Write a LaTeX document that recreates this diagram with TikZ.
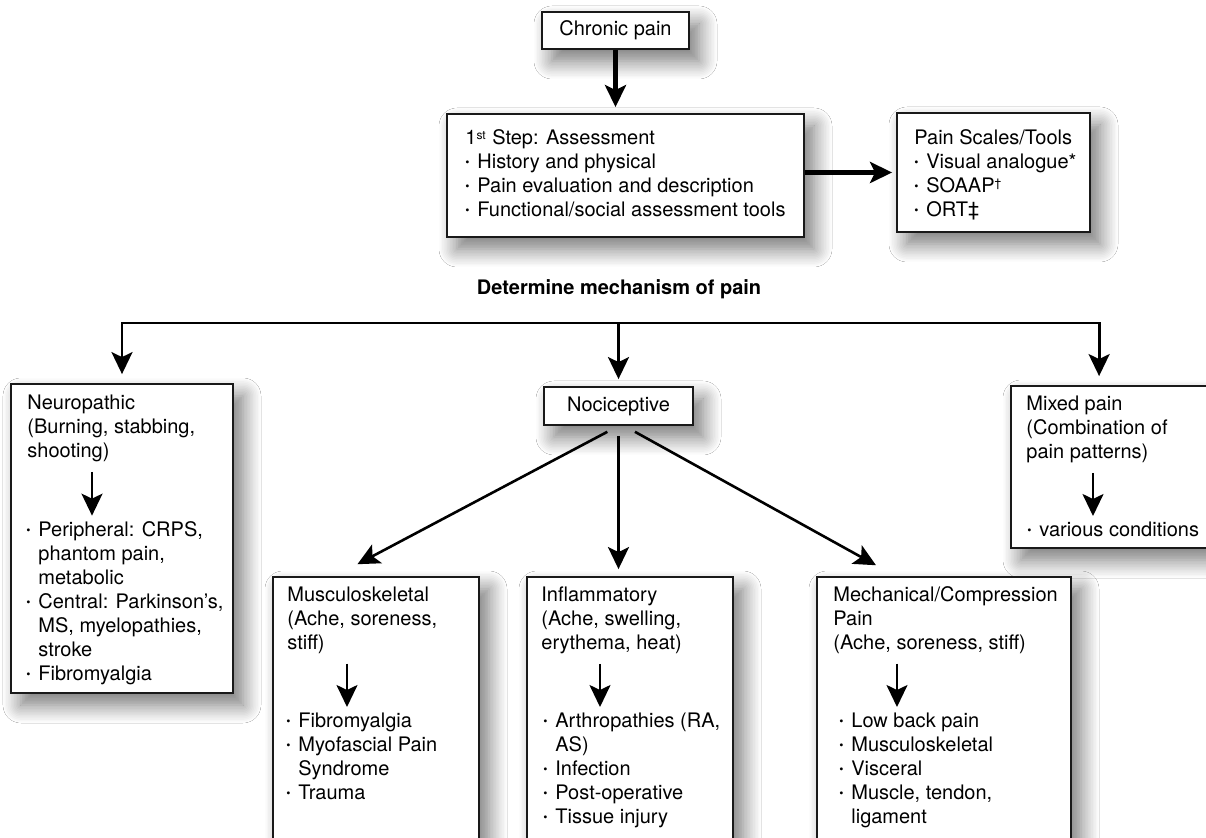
\documentclass[tikz,border=0pt]{standalone}
\usepackage{fontspec}
\setmainfont{TeX Gyre Heros}
\usepackage{tikz}
\usetikzlibrary{arrows.meta,fit,shadows.blur}
\newcommand{\bitem}{\makebox[6pt][l]{\raisebox{1.2pt}{\fontsize{6}{6}\selectfont\textbullet}}}
\newcommand{\bcont}{\hspace*{6pt}}

\begin{document}
\begin{tikzpicture}[
  x=0.5pt, y=-0.5pt,
  box/.style={draw=black!90, line width=0.9pt, fill=white, inner sep=0pt,
    blur shadow={shadow xshift=5pt, shadow yshift=-6pt, shadow blur radius=9pt, shadow blur steps=12, shadow opacity=55}},
  txt/.style={align=left, anchor=base west, inner sep=0pt},
  arr/.style={-{Stealth[length=11pt, width=10.5pt, inset=2.5pt]}, line width=1.4pt},
  bigarr/.style={arr, line width=2.2pt},
  diagarr/.style={arr, line width=1.3pt},
  inarr/.style={arr, line width=1.2pt, shorten <=4.5pt, shorten >=3pt}
]
\fill[white, use as bounding box] (0,0) rectangle (1206,838);
\clip (0,0) rectangle (1206,838);

% top part (text nodes sit on the baseline of their last line)
\node[box, minimum width=73.5pt, minimum height=18.5pt] (chronic) at (615.5,30.5) {Chronic pain};
\node[box, fit={(447,114)(804,237)}] (assess) {};
\node[txt] (assess-txt) at (465,217) {1{\footnotesize\textsuperscript{st}} Step: Assessment\\\bitem History and physical\\\bitem Pain evaluation and description\\\bitem Functional/social assessment tools};
\node[box, fit={(897,113)(1090,232)}] (scales) {};
\node[txt] (scales-txt) at (914,217) {Pain Scales/Tools\\\bitem Visual analogue*\\\bitem SOAAP{\footnotesize\textsuperscript{\textdagger}}\\\bitem ORT\textdaggerdbl};
\draw[bigarr, shorten >=3pt] (chronic.south) -- (chronic.south |- assess.north);
\draw[bigarr, shorten >=2pt] (assess.east |- scales.west) -- (scales.west);

\node[font=\bfseries, anchor=base] (mech-lbl) at (619,295) {Determine mechanism of pain};
\coordinate (split) at (618.5,323);

% mechanism boxes
\node[box, fit={(11,384)(233,693)}] (neuro) {};
\node[txt] (neuro-head) at (27,458) {Neuropathic\\(Burning, stabbing,\\shooting)};
\node[txt] (neuro-list) at (26,681) {\bitem Peripheral: CRPS,\\\bcont phantom pain,\\\bcont metabolic\\\bitem Central: Parkinson’s,\\\bcont MS, myelopathies,\\\bcont stroke\\\bitem Fibromyalgia};

\node[box, minimum width=74.5pt, minimum height=19pt] (noci) at (618.5,406) {Nociceptive};

\node[box, fit={(1011,386)(1240,548)}] (mixed) {};
\node[txt] (mixed-head) at (1026,459) {Mixed pain\\(Combination of\\pain patterns)};
\node[txt] (mixed-list) at (1027,537) {\bitem various conditions};

\node[box, fit={(273,577)(479,860)}] (musc) {};
\node[txt] (musc-head) at (287,650) {Musculoskeletal\\(Ache, soreness,\\stiff)};
\node[txt] (musc-list) at (286,800) {\bitem Fibromyalgia\\\bitem Myofascial Pain\\\bcont Syndrome\\\bitem Trauma};

\node[box, fit={(527,577)(733,860)}] (infl) {};
\node[txt] (infl-head) at (541,650) {Inflammatory\\(Ache, swelling,\\erythema, heat)};
\node[txt] (infl-list) at (543,824) {\bitem Arthropathies (RA,\\\bcont AS)\\\bitem Infection\\\bitem Post-operative\\\bitem Tissue injury};

\node[box, fit={(817,577)(1071,860)}] (mech) {};
\node[txt] (mech-head) at (833,650) {Mechanical/Compression\\Pain\\(Ache, soreness, stiff)};
\node[txt] (mech-list) at (839,824) {\bitem Low back pain\\\bitem Musculoskeletal\\\bitem Visceral\\\bitem Muscle, tendon,\\\bcont ligament};

% connectors
\draw[arr, shorten >=3.5pt] (split) -- (noci);
\draw[arr, shorten >=4.5pt] (split) -| (neuro.north);
\draw[arr, shorten >=4.5pt] (split) -| ([xshift=44.5pt]mixed.north west);
\draw[diagarr, shorten <=6.3pt, shorten >=12.7pt] (noci.south) -- ([xshift=-20.5pt]musc.north);
\draw[diagarr, shorten <=5pt, shorten >=3.5pt] (noci.south) -- (noci.south |- infl.north);
\draw[diagarr, shorten <=6.1pt, shorten >=11.2pt] ([xshift=2.9pt]noci.south) -- ([xshift=-24.2pt]mech.north);
\foreach \nm/\dx in {neuro/32.5pt, mixed/33.5pt, musc/30pt, infl/29.5pt, mech/32pt} {
  \coordinate (\nm-ax) at ([xshift=\dx]\nm-head.south west);
  \draw[inarr] (\nm-ax) -- (\nm-ax |- \nm-list.north);
}
\end{tikzpicture}
\end{document}
